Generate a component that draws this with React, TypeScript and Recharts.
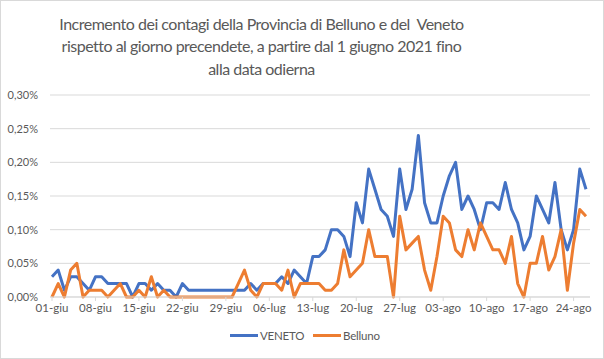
import React from 'react';
import { LineChart, Line, XAxis, YAxis, CartesianGrid, Legend } from 'recharts';

const FONT = 'Lato, "Open Sans", sans-serif';
const TEXT = '#595959';
const GRID = '#D9D9D9';

const TITLE_LINES = [
  'Incremento dei contagi della Provincia di Belluno e del\u00a0 Veneto',
  'rispetto al giorno precendete, a partire dal 1 giugno 2021 fino',
  'alla data odierna',
];

// months covered and days shown in each
const MONTHS: [string, number][] = [['giu', 30], ['lug', 31], ['ago', 26]];
const DATES: string[] = MONTHS.flatMap(([m, n]) =>
  Array.from({ length: n }, (_, i) => `${String(i + 1).padStart(2, '0')}-${m}`)
);

// values in percent
const VENETO = [
  0.03, 0.04, 0.01, 0.03, 0.03, 0.02, 0.01, 0.03, 0.03, 0.02,
  0.02, 0.02, 0.02, 0.00, 0.02, 0.02, 0.01, 0.02, 0.01, 0.01,
  0.00, 0.02, 0.01, 0.01, 0.01, 0.01, 0.01, 0.01, 0.01, 0.01,
  0.01, 0.01, 0.02, 0.01, 0.02, 0.02, 0.02, 0.03, 0.02, 0.04,
  0.03, 0.02, 0.06, 0.06, 0.07, 0.10, 0.10, 0.09, 0.06, 0.14,
  0.11, 0.19, 0.16, 0.13, 0.12, 0.09, 0.19, 0.13, 0.16, 0.24,
  0.14, 0.11, 0.11, 0.15, 0.18, 0.20, 0.13, 0.15, 0.13, 0.10,
  0.14, 0.14, 0.13, 0.17, 0.13, 0.11, 0.07, 0.09, 0.15, 0.13,
  0.11, 0.17, 0.10, 0.07, 0.10, 0.19, 0.16,
];

const BELLUNO = [
  0.00, 0.02, 0.00, 0.04, 0.05, 0.00, 0.01, 0.01, 0.01, 0.00,
  0.01, 0.02, 0.00, 0.00, 0.01, 0.00, 0.03, 0.00, 0.01, 0.00,
  0.00, 0.00, 0.00, 0.00, 0.00, 0.00, 0.00, 0.00, 0.00, 0.00,
  0.02, 0.04, 0.01, 0.00, 0.02, 0.02, 0.02, 0.01, 0.04, 0.00,
  0.02, 0.02, 0.02, 0.02, 0.01, 0.01, 0.02, 0.07, 0.03, 0.04,
  0.05, 0.10, 0.06, 0.06, 0.06, 0.00, 0.12, 0.07, 0.08, 0.09,
  0.04, 0.01, 0.06, 0.12, 0.11, 0.07, 0.06, 0.10, 0.07, 0.11,
  0.09, 0.07, 0.07, 0.05, 0.09, 0.02, 0.00, 0.05, 0.05, 0.09,
  0.04, 0.06, 0.10, 0.01, 0.08, 0.13, 0.12,
];

const Y_TICKS = [0, 0.05, 0.1, 0.15, 0.2, 0.25, 0.3];

const SERIES = [
  { key: 'veneto', name: 'VENETO', color: '#4472C4', values: VENETO, width: 83 },
  { key: 'belluno', name: 'Belluno', color: '#ED7D31', values: BELLUNO, width: 67 },
];

const data = DATES.map((date, i) => ({
  date,
  veneto: VENETO[i],
  belluno: BELLUNO[i],
}));

const fmtPct = (v: number) => `${v.toFixed(2).replace('.', ',')}%`;

const LegendContent = () => (
  <div
    style={{
      display: 'flex',
      justifyContent: 'center',
      alignItems: 'center',
      fontFamily: FONT,
      fontSize: 11.5,
      letterSpacing: -0.2,
      color: TEXT,
      height: 20,
      paddingLeft: 12,
    }}
  >
    {SERIES.map((s) => (
      <span
        key={s.key}
        style={{ display: 'inline-flex', alignItems: 'center', width: s.width, whiteSpace: 'nowrap' }}
      >
        <span
          style={{
            display: 'inline-block',
            width: 28,
            height: 3,
            background: s.color,
            marginRight: 2,
          }}
        />
        {s.name}
      </span>
    ))}
  </div>
);

export default function App() {
  return (
    <div
      style={{
        position: 'absolute',
        left: 0,
        top: 0,
        width: 604,
        height: 359,
        background: '#fff',
        boxSizing: 'border-box',
        border: `1px solid ${GRID}`,
      }}
    >
      <div
        style={{
          position: 'absolute',
          left: 0,
          top: 11.5,
          width: 521,
          textAlign: 'center',
          fontFamily: FONT,
          fontSize: 16,
          letterSpacing: -0.5,
          lineHeight: '22.5px',
          color: TEXT,
          whiteSpace: 'pre',
        }}
      >
        {TITLE_LINES.map((t) => (
          <div key={t}>{t}</div>
        ))}
      </div>
      <div style={{ position: 'absolute', left: -1, top: -1 }}>
        <LineChart
          width={604}
          height={359}
          data={data}
          margin={{ top: 95, right: 14, bottom: 20, left: 8 }}
        >
          <CartesianGrid vertical={false} stroke={GRID} strokeWidth={1} />
          <XAxis
            dataKey="date"
            interval={6}
            padding={{ left: 2, right: 4 }}
            axisLine={{ stroke: GRID }}
            tickLine={{ stroke: GRID }}
            tickSize={4}
            tickMargin={3}
            height={22}
            tick={{ fill: TEXT, fontSize: 11.5, fontFamily: FONT }}
          />
          <YAxis
            domain={[0, 0.3]}
            ticks={Y_TICKS}
            tickFormatter={fmtPct}
            axisLine={false}
            tickLine={false}
            tickSize={6}
            tickMargin={6}
            width={42}
            tick={{ fill: TEXT, fontSize: 11, fontFamily: FONT }}
          />
          <Legend
            verticalAlign="bottom"
            content={<LegendContent />}
            wrapperStyle={{ height: 20, bottom: 14 }}
          />
          {SERIES.map((s) => (
            <Line
              key={s.key}
              type="linear"
              dataKey={s.key}
              name={s.name}
              stroke={s.color}
              strokeWidth={3}
              dot={false}
              isAnimationActive={false}
              strokeLinejoin="round"
            />
          ))}
        </LineChart>
      </div>
    </div>
  );
}
